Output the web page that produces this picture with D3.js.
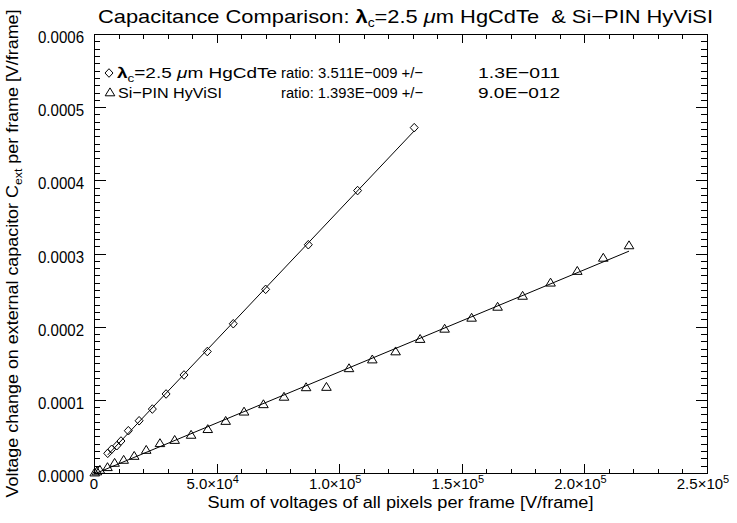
<!DOCTYPE html>
<html>
<head>
<meta charset="utf-8">
<script src="https://cdn.jsdelivr.net/npm/d3@7"></script>
<style>
body { margin: 0; background: #fff; }
text { font-family: "Liberation Sans", Arial, sans-serif; fill: #000; white-space: pre; }
</style>
</head>
<body>
<svg id="canvas"></svg>
<script>
let hgX = [5600, 7200, 9300, 11000, 14000, 18400, 23800, 29400, 36700, 46200, 56800, 70000, 87400, 107500, 130600]
let hgY = [2.69e-5, 3.24e-5, 3.73e-5, 4.37e-5, 5.78e-5, 7.14e-5, 8.74e-5, 1.08e-4, 1.34e-4, 1.66e-4, 2.04e-4, 2.51e-4, 3.12e-4, 3.86e-4, 4.72e-4]

let siX = [300, 1200, 2400, 5500, 8400, 12100, 16400, 21300, 26900, 32900, 39600, 46400, 53700, 61200, 69100, 77500, 86500, 94800, 104000, 113500, 123000, 133000, 143000, 154000, 164600, 174800, 186200, 197100, 207700, 218200]
let siY = [5e-7, 2e-6, 4.1e-6, 7.8e-6, 1.37e-5, 1.78e-5, 2.32e-5, 3.14e-5, 4.06e-5, 4.5e-5, 5.2e-5, 5.98e-5, 7.1e-5, 8.37e-5, 9.38e-5, 1.04e-4, 1.17e-4, 1.175e-4, 1.43e-4, 1.55e-4, 1.66e-4, 1.83e-4, 1.97e-4, 2.12e-4, 2.27e-4, 2.42e-4, 2.6e-4, 2.76e-4, 2.94e-4, 3.11e-4]

let xTicks = [0, 50000, 100000, 150000, 200000, 250000]
let xTickMain = ["0", "5.0×10", "1.0×10", "1.5×10", "2.0×10", "2.5×10"]
let xTickExp = ["", "4", "5", "5", "5", "5"]
let yTicks = [0, 0.0001, 0.0002, 0.0003, 0.0004, 0.0005, 0.0006]
let yTickLabels = ["0.0000", "0.0001", "0.0002", "0.0003", "0.0004", "0.0005", "0.0006"]

let legendNames = ["HgCdTe", "Si−PIN HyViSI"]
let legendRatios = ["ratio: 3.511E−009 +/−", "ratio: 1.393E−009 +/−"]
let legendErrors = ["1.3E−011", "9.0E−012"]

let width = 737
let height = 523
let padLeft = 94, padRight = 707, padTop = 34, padBottom = 473

let svg = d3.select("#canvas")
svg.attr("width", width)
svg.attr("height", height)

let xScale = d3.scaleLinear().domain([0, 250000]).range([padLeft, padRight])
let yScale = d3.scaleLinear().domain([0, 0.0006]).range([padBottom, padTop])

let diamond = "M0,-4.3L4,0L0,4.3L-4,0Z"
let triangle = "M0,-4.6L4.8,3.3L-4.8,3.3Z"

let fit = (xs, ys) => {
    let mx = d3.mean(xs), my = d3.mean(ys)
    let b = d3.sum(xs, (x, i) => (x - mx) * (ys[i] - my)) / d3.sum(xs, x => (x - mx) ** 2)
    let a = my - b * mx
    let x0 = d3.min(xs), x1 = d3.max(xs)
    return [[x0, a + b * x0], [x1, a + b * x1]]
}

// text built from pieces so sub/superscripts can sit inside one <text>
let addText = (parent, parts, attrs, len) => {
    let t = parent.append("text")
    Object.entries(attrs).forEach(([k, v]) => t.attr(k, v))
    parts.forEach(p => {
        let s = t.append("tspan").text(p.t)
        if (p.dy) s.attr("dy", p.dy)
        if (p.size) s.style("font-size", p.size + "px")
        if (p.weight) s.style("font-weight", p.weight)
        if (p.style) s.style("font-style", p.style)
    })
    if (len) t.attr("textLength", len).attr("lengthAdjust", "spacingAndGlyphs")
    return t
}

let drawAxes = () => {
    let g = svg.append("g").attr("shape-rendering", "crispEdges")
    let xMinor = d3.range(0, 250001, 10000)
    let yMinor = d3.range(0, 61).map(i => i * 1e-5)
    let put = (gen, tr, vals, size) => {
        g.append("g").attr("transform", tr)
            .call(gen.tickValues(vals).tickSize(size).tickSizeOuter(0).tickFormat(""))
    }
    put(d3.axisBottom(xScale), `translate(0,${padBottom})`, xMinor, -4.5)
    put(d3.axisBottom(xScale), `translate(0,${padBottom})`, xTicks, -9)
    put(d3.axisTop(xScale), `translate(0,${padTop})`, xMinor, -4.5)
    put(d3.axisTop(xScale), `translate(0,${padTop})`, xTicks, -9)
    put(d3.axisLeft(yScale), `translate(${padLeft},0)`, yMinor, -6)
    put(d3.axisLeft(yScale), `translate(${padLeft},0)`, yTicks, -11.5)
    put(d3.axisRight(yScale), `translate(${padRight},0)`, yMinor, -6)
    put(d3.axisRight(yScale), `translate(${padRight},0)`, yTicks, -11.5)
    g.selectAll("path, line").attr("stroke", "#000")

    xTicks.forEach((v, i) => {
        let parts = [{t: xTickMain[i]}]
        if (xTickExp[i]) parts.push({t: xTickExp[i], dy: -6, size: 11})
        addText(svg, parts, {x: xScale(v) + (i ? -4 : 0), y: padBottom + 16, "text-anchor": "middle", "font-size": "15px"})
    })

    yTicks.forEach((v, i) => {
        addText(svg, [{t: yTickLabels[i]}], {x: padLeft - 10, y: yScale(v) + 9, "text-anchor": "end", "font-size": "16px"}, 46)
    })
}

let drawTitles = () => {
    addText(svg, [
        {t: "Capacitance Comparison: "},
        {t: "λ", weight: "bold"},
        {t: "c", dy: 4, size: 12},
        {t: "=2.5 ", dy: -4},
        {t: "μ", style: "italic"},
        {t: "m HgCdTe  & Si−PIN HyViSI"}
    ], {x: 98, y: 23, "font-size": "19px"}, 615)

    addText(svg, [{t: "Sum of voltages of all pixels per frame [V/frame]"}],
        {x: (padLeft + padRight) / 2, y: 508, "text-anchor": "middle", "font-size": "16px"}, 386)

    addText(svg, [
        {t: "Voltage change on external capacitor C"},
        {t: "ext", dy: 4, size: 11},
        {t: " per frame [V/frame]", dy: -4}
    ], {transform: `translate(17.5,${(padTop + padBottom) / 2}) rotate(-90)`, "text-anchor": "middle", "font-size": "16px"}, 488)
}

let drawLegend = () => {
    let lg = svg.append("g")
    lg.append("path").attr("d", diamond).attr("transform", "translate(109,73)")
        .attr("fill", "none").attr("stroke", "#000")
    lg.append("path").attr("d", triangle).attr("transform", "translate(110,92.5)")
        .attr("fill", "none").attr("stroke", "#000")
    addText(lg, [
        {t: "λ", weight: "bold"},
        {t: "c", dy: 4, size: 11},
        {t: "=2.5 ", dy: -4},
        {t: "μ", style: "italic"},
        {t: "m " + legendNames[0]}
    ], {x: 117, y: 78, "font-size": "15.5px"}, 160)
    addText(lg, [{t: legendNames[1]}], {x: 118, y: 97.5, "font-size": "15.5px"}, 104)
    legendRatios.forEach((r, i) => {
        addText(lg, [{t: r}], {x: 281, y: 78 + i * 19.5, "font-size": "15.5px"}, 142)
        addText(lg, [{t: legendErrors[i]}], {x: 560, y: 78 + i * 19.5, "text-anchor": "end", "font-size": "15.5px"}, 82)
    })
}

let drawSeries = (xs, ys, shape) => {
    let line = d3.line().x(d => xScale(d[0])).y(d => yScale(d[1]))
    svg.append("path").attr("d", line(fit(xs, ys)))
        .attr("fill", "none").attr("stroke", "#000").attr("stroke-width", 1)
    svg.append("g").selectAll("path")
        .data(xs.map((x, i) => [x, ys[i]]))
        .enter()
        .append("path")
        .attr("d", shape)
        .attr("transform", d => `translate(${xScale(d[0])},${yScale(d[1])})`)
        .attr("fill", "none")
        .attr("stroke", "#000")
        .attr("stroke-width", 1)
}

drawAxes()
drawSeries(hgX, hgY, diamond)
drawSeries(siX, siY, triangle)
drawTitles()
drawLegend()
</script>
</body>
</html>
